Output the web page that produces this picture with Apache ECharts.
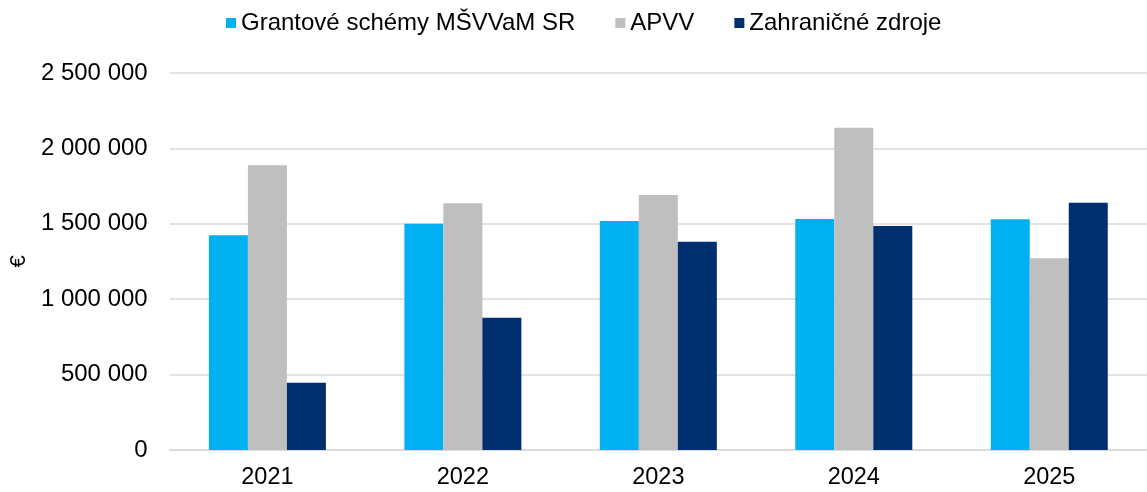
<!DOCTYPE html>
<html>
<head>
<meta charset="utf-8">
<script src="https://cdn.jsdelivr.net/npm/echarts@6/dist/echarts.min.js"></script>
<style>
  html, body { margin: 0; padding: 0; background: #fff; }
  #main { width: 1147px; height: 492px; }
</style>
</head>
<body>
<div id="main"></div>
<script>
// roky a hodnoty (odčítané z grafu)
var years = ['2021', '2022', '2023', '2024', '2025'];
var grantove = [1424000, 1500000, 1519000, 1532000, 1530000];
var apvv = [1888000, 1636000, 1691000, 2137000, 1271000];
var zahranicne = [446000, 877000, 1381000, 1485000, 1640000];
var seriesNames = ['Grantové schémy MŠVVaM SR', 'APVV', 'Zahraničné zdroje'];

var font = 'Liberation Sans, Arial, sans-serif';

function fmt(v) {
    // medzera ako oddeľovač tisícok
    return String(v).replace(/\B(?=(\d{3})+(?!\d))/g, ' ');
}

var chart = echarts.init(document.getElementById('main'), null, { renderer: 'canvas' });

chart.setOption({
    animation: false,
    textStyle: { fontFamily: font },
    color: ['#00B0F0', '#BFBFBF', '#002F6F'],
    legend: {
        top: 6,
        left: 221,
        itemWidth: 10,
        itemHeight: 10,
        itemGap: 40,
        icon: 'rect',
        textStyle: { fontSize: 24, color: '#000', fontFamily: font },
        data: seriesNames
    },
    grid: {
        left: 169,
        top: 73,
        width: 982,
        bottom: 42
    },
    xAxis: {
        type: 'category',
        data: years,
        axisTick: { show: false },
        axisLine: { lineStyle: { color: '#D9D9D9', width: 1.5 } },
        axisLabel: { color: '#000', fontSize: 23.5, margin: 16, fontFamily: font }
    },
    yAxis: {
        type: 'value',
        min: 0,
        max: 2500000,
        interval: 500000,
        name: '€',
        nameLocation: 'middle',
        nameGap: 139,
        nameTextStyle: { color: '#000', fontSize: 22, fontFamily: font },
        axisLine: { show: false },
        axisTick: { show: false },
        splitLine: { lineStyle: { color: '#D9D9D9', width: 1.5 } },
        axisLabel: {
            color: '#000',
            fontSize: 24,
            margin: 22,
            fontFamily: font,
            formatter: fmt
        }
    },
    series: [
        { name: seriesNames[0], type: 'bar', data: grantove, barWidth: 39, barGap: '0%' },
        { name: seriesNames[1], type: 'bar', data: apvv, barWidth: 39, barGap: '0%' },
        { name: seriesNames[2], type: 'bar', data: zahranicne, barWidth: 39, barGap: '0%' }
    ]
});
</script>
</body>
</html>
